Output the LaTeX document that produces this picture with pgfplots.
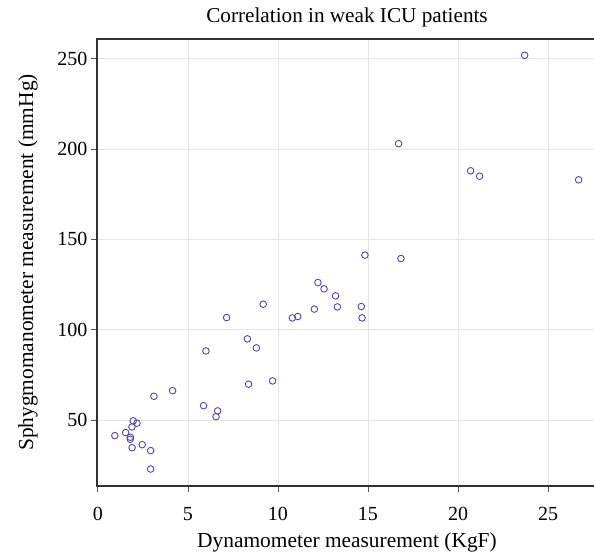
\documentclass[border=0pt]{standalone}
\usepackage{pgfplots}
\pgfplotsset{compat=1.18}
\usepackage{fontspec}
\setmainfont{Liberation Serif}
\definecolor{ptc}{RGB}{82,70,170}
\definecolor{axc}{RGB}{50,50,50}
\begin{document}
\begin{tikzpicture}
\begin{axis}[
  at={(0,0)}, anchor=south west,
  scale only axis, width=500pt, height=447pt,
  xmin=-0.05, xmax=27.72, ymin=13.4, ymax=261,
  xtick={0,5,10,15,20,25}, ytick={50,100,150,200,250},
  tick align=outside, xtick pos=left, ytick pos=left,
  major tick length=6pt,
  grid=major, grid style={draw=black!10, line width=0.8pt},
  axis line style={draw=axc, line width=1.1pt},
  tick style={draw=black!65, line width=0.8pt},
  /pgf/number format/assume math mode=true,
  ticklabel style={font=\fontsize{20}{24}\selectfont},
  xticklabel style={yshift=-12pt},
  xlabel={Dynamometer measurement (KgF)},
  ylabel={Sphygmomanometer measurement (mmHg)},
  title={Correlation in weak ICU patients},
  label style={font=\fontsize{21.4}{25}\selectfont},
  xlabel style={at={(axis description cs:0.5,-0.126)}, anchor=center},
  ylabel style={at={(axis description cs:-0.138,0.5)}, anchor=center},
  title style={font=\fontsize{21.2}{25}\selectfont, at={(axis description cs:0.5,1.036)}, anchor=center},
]
\addplot[only marks, mark=o, mark size=3.3pt, ptc, mark options={line width=0.9pt}] table {
x y
23.7 252
16.7 203
20.7 188
21.2 185
26.7 183
14.83 141.3
16.83 139.4
12.22 126.1
12.56 122.6
13.2 118.7
13.3 112.6
14.63 112.8
14.67 106.5
12.02 111.4
10.8 106.5
11.1 107.3
9.18 114.1
7.15 106.7
8.3 94.9
8.8 89.9
6.0 88.2
9.7 71.6
8.37 69.8
5.87 57.9
6.65 55.0
6.56 51.8
4.15 66.2
3.11 63.1
1.96 49.5
2.17 48.2
1.89 46.1
0.94 41.3
1.54 43.0
1.8 40.4
1.8 39.3
2.46 36.3
1.9 34.6
2.93 33.0
2.93 22.8
};
\end{axis}
\pgfresetboundingbox
\path[use as bounding box] (-97pt,-68pt) rectangle (497pt,486pt);
\end{tikzpicture}
\end{document}
